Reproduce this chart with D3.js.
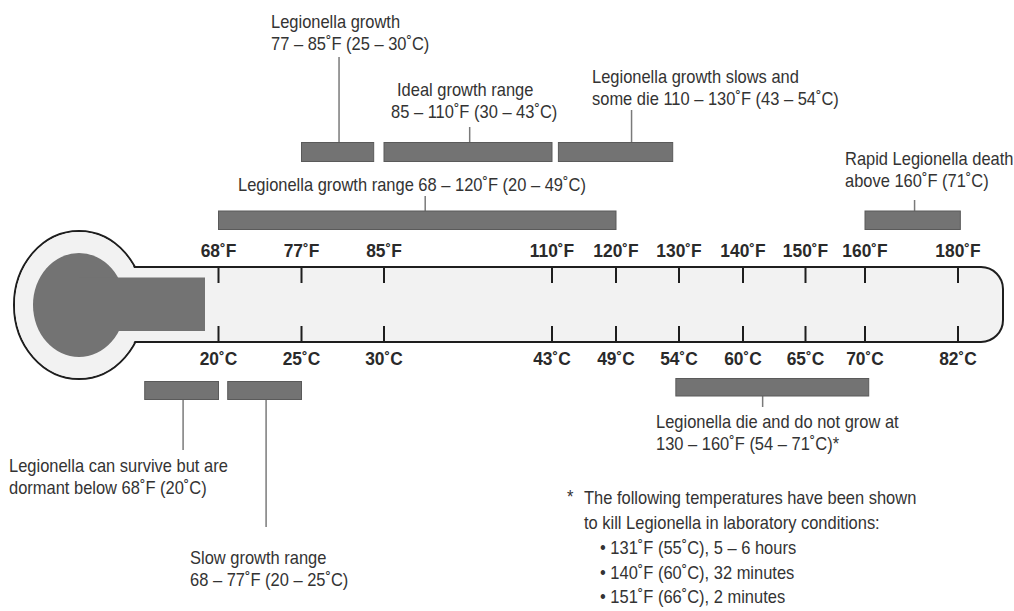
<!DOCTYPE html>
<html>
<head>
<meta charset="utf-8">
<script src="https://cdn.jsdelivr.net/npm/d3@7"></script>
<style>
  body { margin: 0; background: #fff; }
  svg text { font-family: "Liberation Sans", Arial, sans-serif; }
</style>
</head>
<body>
<div id="graph"></div>
<script>
// Scale ticks on the thermometer
const fTicks = [68, 77, 85, 110, 120, 130, 140, 150, 160, 180];
const cTicks = [20, 25, 30, 43, 49, 54, 60, 65, 70, 82];

// Temperature ranges (deg F) drawn as grey bars
const rangeNames = ["growth", "ideal", "slows", "range", "rapid", "dormant", "slow", "die"];
const rangeLo = [77, 85, 111, 68, 160, 60, 69, 129.5];
const rangeHi = [84, 110, 129, 120, 180.5, 68, 77, 160.8];

// Caption for each range
const captions = [
  ["Legionella growth", "77 – 85˚F (25 – 30˚C)"],
  ["Ideal growth range", "85 – 110˚F (30 – 43˚C)"],
  ["Legionella growth slows and", "some die 110 – 130˚F (43 – 54˚C)"],
  ["Legionella growth range 68 – 120˚F (20 – 49˚C)"],
  ["Rapid Legionella death", "above 160˚F (71˚C)"],
  ["Legionella can survive but are", "dormant below 68˚F (20˚C)"],
  ["Slow growth range", "68 – 77˚F (20 – 25˚C)"],
  ["Legionella die and do not grow at", "130 – 160˚F (54 – 71˚C)*"]
];

// Footnote
const noteLines = ["The following temperatures have been shown", "to kill Legionella in laboratory conditions:"];
const killPoints = ["131˚F (55˚C), 5 – 6 hours", "140˚F (60˚C), 32 minutes", "151˚F (66˚C), 2 minutes"];

const width = 1014, height = 611;

// tick spacing on the drawing is not linear, so use a piecewise scale
const tickPos = [218.5, 301.5, 384, 552, 616, 679, 743, 805.5, 865, 958];
const x = d3.scaleLinear().domain(fTicks).range(tickPos);

const tubeTop = 267, tubeBot = 342, tubeRight = 1003, capR = 22;
const bulb = { cx: 79, cy: 305, rx: 65, ry: 74, irx: 46, iry: 52 };
const lightFill = "#f2f2f2", outline = "#1e1e1e", barFill = "#737373", barStroke = "#5a5a5a";
const textColor = "#333333", leaderColor = "#7a7a7a";
const squeeze = 0.915; // the original lettering is a condensed face

// bar row, leader attach point (fraction of bar), leader end y, caption x + baseline
const barLayout = [
  { y: 142.5, h: 19, at: 0.52, ly: 57,  tx: 271, ty: 28 },
  { y: 142.5, h: 19, at: 0.51, ly: 127, tx: 391, ty: 96, tx0: 397 },
  { y: 142.5, h: 19, at: 0.64, ly: 110, tx: 592, ty: 83 },
  { y: 211,   h: 18.5, at: 0.52, ly: 196, tx: 238, ty: 191 },
  { y: 211,   h: 18.5, at: 0.52, ly: 200, tx: 845, ty: 165 },
  { y: 381.5, h: 18, at: 0.52, ly: 450, tx: 9,   ty: 472 },
  { y: 381.5, h: 18, at: 0.52, ly: 527, tx: 190, ty: 564 },
  { y: 378.5, h: 17.5, at: 0.45, ly: 407, tx: 656, ty: 428 }
];

const place = (px, py) => `translate(${px},${py}) scale(${squeeze},1)`;

const svg = d3.select("#graph")
  .append("svg")
  .attr("width", width)
  .attr("height", height);

// Thermometer body
svg.append("ellipse")
  .attr("cx", bulb.cx).attr("cy", bulb.cy)
  .attr("rx", bulb.rx).attr("ry", bulb.ry)
  .attr("fill", lightFill)
  .attr("stroke", outline)
  .attr("stroke-width", 2);

const tubePath = d3.path();
tubePath.moveTo(110, tubeTop);
tubePath.lineTo(tubeRight - capR, tubeTop);
tubePath.arcTo(tubeRight, tubeTop, tubeRight, tubeTop + capR, capR);
tubePath.lineTo(tubeRight, tubeBot - capR);
tubePath.arcTo(tubeRight, tubeBot, tubeRight - capR, tubeBot, capR);
tubePath.lineTo(110, tubeBot);

svg.append("path")
  .attr("d", tubePath.toString())
  .attr("fill", lightFill)
  .attr("stroke", outline)
  .attr("stroke-width", 2);

// hide the overlapping outlines where the bulb meets the tube
svg.append("rect")
  .attr("x", 100).attr("y", tubeTop + 1)
  .attr("width", 100).attr("height", tubeBot - tubeTop - 2)
  .attr("fill", lightFill);
svg.append("ellipse")
  .attr("cx", bulb.cx).attr("cy", bulb.cy)
  .attr("rx", bulb.rx - 1).attr("ry", bulb.ry - 1)
  .attr("fill", lightFill);

// mercury
svg.append("ellipse")
  .attr("cx", bulb.cx).attr("cy", bulb.cy)
  .attr("rx", bulb.irx).attr("ry", bulb.iry)
  .attr("fill", barFill);
svg.append("rect")
  .attr("x", bulb.cx).attr("y", 277.5)
  .attr("width", 205 - bulb.cx).attr("height", 53.5)
  .attr("fill", barFill);

// Ticks
const ticks = svg.append("g").selectAll("g")
  .data(fTicks)
  .join("g")
  .attr("transform", d => `translate(${x(d)},0)`);

ticks.append("line")
  .attr("y1", tubeTop).attr("y2", tubeTop + 16)
  .attr("stroke", outline).attr("stroke-width", 2);
ticks.append("line")
  .attr("y1", tubeBot - 16).attr("y2", tubeBot)
  .attr("stroke", outline).attr("stroke-width", 2);

ticks.append("text")
  .attr("transform", place(0, 257))
  .attr("text-anchor", "middle")
  .style("font-size", "19px")
  .style("font-weight", "bold")
  .attr("fill", "#2a2a2a")
  .text(d => `${d}˚F`);

ticks.append("text")
  .attr("transform", place(0, 365))
  .attr("text-anchor", "middle")
  .style("font-size", "19px")
  .style("font-weight", "bold")
  .attr("fill", "#2a2a2a")
  .text((d, i) => `${cTicks[i]}˚C`);

// Range bars with leaders and captions
const ranges = rangeNames.map((name, i) => ({
  name, lo: rangeLo[i], hi: rangeHi[i], lines: captions[i], ...barLayout[i]
}));

const rg = svg.append("g").selectAll("g")
  .data(ranges)
  .join("g")
  .attr("class", d => `range ${d.name}`);

rg.append("line")
  .attr("x1", d => x(d.lo) + (x(d.hi) - x(d.lo)) * d.at)
  .attr("x2", d => x(d.lo) + (x(d.hi) - x(d.lo)) * d.at)
  .attr("y1", d => d.ly < d.y ? d.ly : d.y + d.h)
  .attr("y2", d => d.ly < d.y ? d.y : d.ly)
  .attr("stroke", leaderColor)
  .attr("stroke-width", 1.5);

rg.append("rect")
  .attr("x", d => x(d.lo))
  .attr("y", d => d.y)
  .attr("width", d => x(d.hi) - x(d.lo))
  .attr("height", d => d.h)
  .attr("fill", barFill)
  .attr("stroke", barStroke)
  .attr("stroke-width", 1);

rg.each(function(d) {
  d3.select(this).selectAll("text.cap")
    .data(d.lines)
    .join("text")
    .attr("class", "cap")
    .attr("transform", (t, j) => place(j === 0 && d.tx0 ? d.tx0 : d.tx, d.ty + j * 22))
    .attr("fill", textColor)
    .style("font-size", "18px")
    .text(t => t);
});

// Footnote
const note = svg.append("g").attr("fill", textColor).style("font-size", "18px");
note.append("text").attr("transform", place(567, 503)).text("*");
note.selectAll("text.line")
  .data(noteLines)
  .join("text")
  .attr("class", "line")
  .attr("transform", (d, i) => place(584, 504 + i * 25))
  .text(d => d);
note.selectAll("text.kill")
  .data(killPoints)
  .join("text")
  .attr("class", "kill")
  .attr("transform", (d, i) => place(600, 554 + i * 24.5))
  .text(d => "• " + d);
</script>
</body>
</html>
